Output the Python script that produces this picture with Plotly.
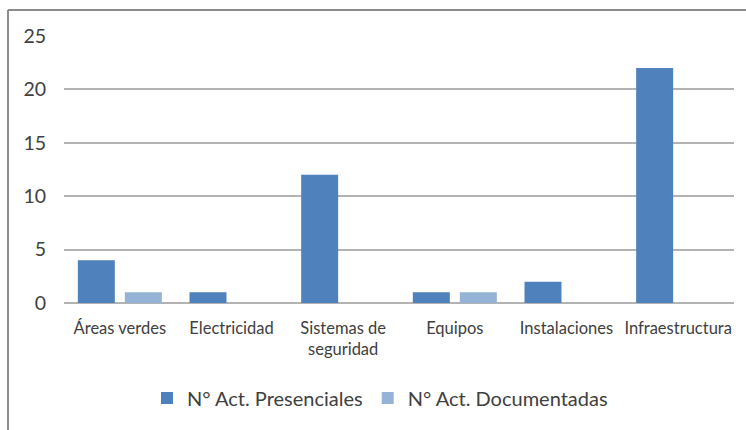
import plotly.graph_objects as go

categories = ["Áreas verdes", "Electricidad", "Sistemas de<br>seguridad", "Equipos", "Instalaciones", "Infraestructura"]
presenciales = [4, 1, 12, 1, 2, 22]
documentadas = [1, 0, 0, 1, 0, 0]
y_ticks = [0, 5, 10, 15, 20, 25]

FONT = "Lato"
TXT = "#404040"

fig = go.Figure()
fig.add_trace(go.Bar(x=categories, y=presenciales, name="N° Act. Presenciales",
                     marker=dict(color="#4F81BD", line=dict(width=0))))
fig.add_trace(go.Bar(x=categories, y=documentadas, name="N° Act. Documentadas",
                     marker=dict(color="#95B3D7", line=dict(width=0))))

L, R, T, B = 64, 12, 36, 127
W, H = 746, 430
pw, ph = W - L - R, H - T - B

def px(x):
    return (x - L) / pw

def py(y):
    return (H - B - y) / ph

fig.update_layout(
    width=W, height=H,
    margin=dict(l=L, r=R, t=T, b=B),
    paper_bgcolor="white", plot_bgcolor="white",
    barmode="group", bargap=0.158, bargroupgap=0.213,
    font=dict(family=FONT, color=TXT),
    xaxis=dict(showgrid=False, showline=False, ticks="", tickfont=dict(size=16.5, color=TXT),
               tickangle=0, ticklabelstandoff=13),
    yaxis=dict(range=[0, 25], tickvals=y_ticks, showgrid=True, gridcolor="#B3B3B3", gridwidth=1.5,
               zeroline=True, zerolinecolor="#B3B3B3", zerolinewidth=1.5,
               showline=False, ticks="", tickfont=dict(size=19.5, color=TXT), ticklabelstandoff=17),
    legend=dict(orientation="h", x=px(380), xanchor="center", y=py(398), yanchor="middle",
                font=dict(size=20, color=TXT), itemwidth=30, traceorder="normal",
                itemsizing="constant"),
    shapes=[
        dict(type="line", xref="paper", yref="paper", x0=px(8), x1=px(746), y0=py(10), y1=py(10),
             line=dict(color="#8C8C8C", width=2)),
        dict(type="line", xref="paper", yref="paper", x0=px(8), x1=px(8), y0=py(10), y1=py(430),
             line=dict(color="#8C8C8C", width=2)),
    ],
)

fig.write_html("out.html", config={"displayModeBar": False},
               post_script="document.body.style.margin='0';document.body.style.overflow='hidden';")
